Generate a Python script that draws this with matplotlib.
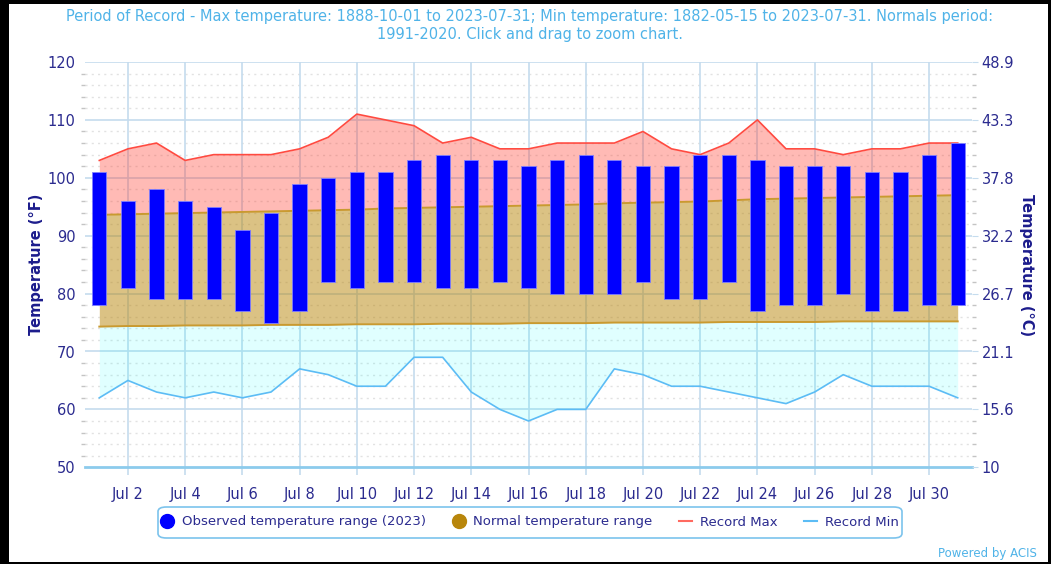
import matplotlib
matplotlib.use('Agg')
import matplotlib.pyplot as plt
from matplotlib.patches import Rectangle, FancyBboxPatch
from matplotlib.lines import Line2D

plt.rcParams['font.family'] = ['Liberation Sans Narrow', 'DejaVu Sans']

# ---- data (July 2023) ----
days = list(range(1, 32))
obs_high = [101, 96, 98, 96, 95, 91, 94, 99, 100, 101, 101, 103, 104, 103, 103, 102,
            103, 104, 103, 102, 102, 104, 104, 103, 102, 102, 102, 101, 101, 104, 106]
obs_low = [78, 81, 79, 79, 79, 77, 75, 77, 82, 81, 82, 82, 81, 81, 82, 81,
           80, 80, 80, 82, 79, 79, 82, 77, 78, 78, 80, 77, 77, 78, 78]
normal_high = [93.6, 93.7, 93.8, 93.9, 94.0, 94.1, 94.2, 94.3, 94.4, 94.5, 94.7, 94.8,
               94.9, 95.0, 95.1, 95.2, 95.3, 95.4, 95.6, 95.7, 95.8, 95.9, 96.1, 96.3,
               96.4, 96.5, 96.6, 96.7, 96.8, 96.9, 97.0]
normal_low = [74.3, 74.4, 74.4, 74.5, 74.5, 74.5, 74.6, 74.6, 74.6, 74.7, 74.7, 74.7,
              74.8, 74.8, 74.8, 74.9, 74.9, 74.9, 75.0, 75.0, 75.0, 75.0, 75.1, 75.1,
              75.1, 75.1, 75.2, 75.2, 75.2, 75.2, 75.2]
record_max = [103, 105, 106, 103, 104, 104, 104, 105, 107, 111, 110, 109, 106, 107, 105, 105,
              106, 106, 106, 108, 105, 104, 106, 110, 105, 105, 104, 105, 105, 106, 106]
record_min = [62, 65, 63, 62, 63, 62, 63, 67, 66, 64, 64, 69, 69, 63, 60, 58,
              60, 60, 67, 66, 64, 64, 63, 62, 61, 63, 66, 64, 64, 64, 62]

x_ticks = list(range(2, 31, 2))
x_labels = ['Jul %d' % d for d in x_ticks]
f_ticks = [50, 60, 70, 80, 90, 100, 110, 120]
c_labels = ['10', '15.6', '21.1', '26.7', '32.2', '37.8', '43.3', '48.9']

title = ('Period of Record - Max temperature: 1888-10-01 to 2023-07-31; Min temperature: '
         '1882-05-15 to 2023-07-31. Normals period:\n1991-2020. Click and drag to zoom chart.')

navy = '#2b2b8f'
grid_col = '#c5dcee'
title_col = '#4fb3e8'

fig = plt.figure(figsize=(10.51, 5.64), dpi=100)
fig.patch.set_facecolor('black')
fig.patches.append(Rectangle((9 / 1051, 2 / 564), 1039 / 1051, 558 / 564,
                             transform=fig.transFigure, facecolor='white',
                             edgecolor='none', zorder=-10))

ax = fig.add_axes([85 / 1051, 1 - 467.3 / 564, 887 / 1051, 405.3 / 564])
ax.set_facecolor('none')

# bands
ax.fill_between(days, normal_high, record_max, color='#ff3020', alpha=0.33, lw=0, zorder=2)
ax.fill_between(days, normal_low, normal_high, color='#b8860b', alpha=0.5, lw=0, zorder=2)
ax.fill_between(days, record_min, normal_low, color='#00ffff', alpha=0.12, lw=0, zorder=2)
ax.plot(days, normal_high, color='#c99a30', lw=1.4, zorder=3)
ax.plot(days, normal_low, color='#c99a30', lw=1.4, zorder=3)
ax.plot(days, record_max, color='#ff4a40', lw=1.2, zorder=4)
ax.plot(days, record_min, color='#5cbcf5', lw=1.2, zorder=4)

# observed range bars
heights = [h - l for h, l in zip(obs_high, obs_low)]
ax.bar(days, heights, bottom=obs_low, width=0.5, color='#0000ff',
       edgecolor='#7f7fff', linewidth=0.6, zorder=5)

ax.set_xlim(0.5, 31.5)
ax.set_ylim(50, 120)

# grid
for y in f_ticks[1:]:
    ax.axhline(y, color=grid_col, lw=1.2, zorder=1)
for y in range(52, 120, 2):
    if y % 10:
        ax.axhline(y, color='#e2e2e2', lw=1, ls=(0, (1.5, 3)), zorder=1)
for xd in x_ticks:
    ax.axvline(xd, color=grid_col, lw=1.2, zorder=1)

for s in ['left', 'right', 'top']:
    ax.spines[s].set_visible(False)
ax.spines['bottom'].set_color('#8ccbec')
ax.spines['bottom'].set_linewidth(2)

ax.set_xticks(x_ticks)
ax.set_xticklabels(x_labels)
ax.set_yticks(f_ticks)
ax.set_yticks(range(50, 121, 2), minor=True)
ax.tick_params(axis='x', colors=grid_col, length=6, width=1.2, labelcolor=navy,
               labelsize=10.5, pad=8)
ax.tick_params(axis='y', which='major', colors=grid_col, length=0, labelcolor=navy,
               labelsize=10.5, pad=7)
ax.tick_params(axis='y', which='minor', colors='#c4c4c4', length=3, width=1)
ax.set_ylabel('Temperature (°F)', color='#1c1c8c', fontsize=10.5, fontweight='bold',
              labelpad=2)

ax2 = ax.twinx()
ax2.set_ylim(50, 120)
ax2.set_yticks(f_ticks)
ax2.set_yticklabels(c_labels)
ax2.set_yticks(range(50, 121, 2), minor=True)
ax2.tick_params(axis='y', which='major', colors=grid_col, length=4, labelcolor=navy,
                labelsize=10.5, pad=3)
ax2.tick_params(axis='y', which='minor', colors='#c4c4c4', length=3, width=1)
for s in ax2.spines.values():
    s.set_visible(False)
ax2.set_ylabel('Temperature (°C)', color='#1c1c8c', fontsize=10.5, fontweight='bold',
               rotation=270, labelpad=14)

fig.text(530 / 1051, 1 - 26 / 564, title, ha='center', va='center', color=title_col,
         fontsize=10.5, linespacing=1.25)

# legend
fig.patches.append(FancyBboxPatch((158 / 1051, 1 - 538 / 564), 744 / 1051, 31 / 564,
                                  boxstyle='round,pad=0,rounding_size=0.008',
                                  transform=fig.transFigure, facecolor='white',
                                  edgecolor='#7cc3ec', lw=1.2, zorder=5))
handles = [
    Line2D([], [], ls='none', marker='o', ms=10, color='#0000ff'),
    Line2D([], [], ls='none', marker='o', ms=10, color='#b8860b'),
    Line2D([], [], color='#ff6a60', lw=1.5),
    Line2D([], [], color='#5cbcf5', lw=1.5),
]
labels = ['Observed temperature range (2023)', 'Normal temperature range',
          'Record Max', 'Record Min']
leg = fig.legend(handles, labels, loc='center', bbox_to_anchor=(530 / 1051, 1 - 522 / 564),
                 ncol=4, frameon=False, fontsize=9.5, handlelength=1.0,
                 handletextpad=0.6, columnspacing=2.0)
for t in leg.get_texts():
    t.set_color(navy)
leg.set_zorder(6)

fig.text(1037 / 1051, 1 - 553 / 564, 'Powered by ACIS', ha='right', va='center',
         color=title_col, fontsize=8.5)

fig.savefig('out.png', dpi=100, facecolor=fig.get_facecolor())
